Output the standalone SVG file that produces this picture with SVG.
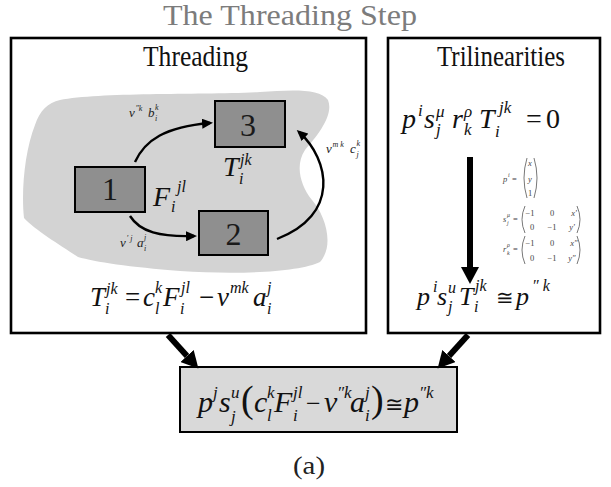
<svg xmlns="http://www.w3.org/2000/svg" width="611" height="487" viewBox="0 0 611 487">
<style>
.r{font-family:"Liberation Serif","Times New Roman",serif;fill:#111}
.m{font-family:"Liberation Serif","Times New Roman",serif;font-style:italic;fill:#111}
.sym{font-family:"DejaVu Serif","Liberation Serif",serif;fill:#111}
.panel{fill:#fff;stroke:#000;stroke-width:2.6}
.node{fill:#8f8f8f;stroke:#000;stroke-width:2}
.lbl{font-family:"Liberation Serif",serif;font-style:italic;fill:#222}
.mx{font-family:"Liberation Serif",serif;fill:#444;font-size:8.5px}
.par{fill:none;stroke:#555;stroke-width:0.8}
.thin{fill:none;stroke:#000;stroke-width:2.4}
.thick{fill:none;stroke:#000;stroke-width:6}
</style>
<defs>
<marker id="ah" markerUnits="userSpaceOnUse" viewBox="0 0 11 10" refX="8" refY="5" markerWidth="11" markerHeight="10" orient="auto"><path d="M0,0 L11,5 L0,10 Z" fill="#000"/></marker>
<marker id="bh" markerUnits="userSpaceOnUse" viewBox="0 0 17 18" refX="0" refY="9" markerWidth="17" markerHeight="18" orient="auto"><path d="M0,0 L17,9 L0,18 Z" fill="#000"/></marker>
</defs>
<rect width="611" height="487" fill="#fff"/>

<g id="title">
<text class="r" x="163" y="25" font-size="29" textLength="254" lengthAdjust="spacingAndGlyphs" style="fill:#7c7c7c">The Threading Step</text>
</g>

<g id="threading-panel">
<rect class="panel" x="11" y="38" width="355" height="295"/>
<text class="r" x="143" y="66" font-size="29" textLength="105" lengthAdjust="spacingAndGlyphs">Threading</text>
<path d="M60 100 C100 92 200 95 260 92 C290 90 320 88 328 100 C334 115 318 135 305 150 C295 165 300 185 312 200 C325 215 335 245 320 262 C300 272 240 275 180 271 C130 267 95 262 78 257 C60 245 35 230 24 218 C21 190 25 150 35 125 C40 110 48 103 60 100 Z" fill="#d3d3d3"/>
<text class="m" font-size="28"><tspan x="223" y="176">T</tspan><tspan x="240" y="165" font-size="16">jk</tspan><tspan x="239" y="184" font-size="16">i</tspan></text>
<text class="m" font-size="28"><tspan x="153" y="206">F</tspan><tspan x="177" y="192" font-size="16">jl</tspan><tspan x="171" y="212" font-size="16">i</tspan></text>
<text class="m" font-size="27"><tspan x="90" y="306">T</tspan><tspan x="106" y="294" font-size="16">jk</tspan><tspan x="105" y="314" font-size="16">i</tspan><tspan x="125" y="306" style="font-style:normal">=</tspan><tspan x="143" y="306">c</tspan><tspan x="155" y="293" font-size="16">k</tspan><tspan x="155" y="314" font-size="16">l</tspan><tspan x="163" y="306">F</tspan><tspan x="181" y="293" font-size="16">jl</tspan><tspan x="180" y="314" font-size="16">i</tspan><tspan x="199" y="306" style="font-style:normal">−</tspan><tspan x="217" y="306">v</tspan><tspan x="230" y="293" font-size="16">mk</tspan><tspan x="253" y="306">a</tspan><tspan x="267" y="293" font-size="16">j</tspan><tspan x="267" y="314" font-size="16">i</tspan></text>
<text class="lbl" font-size="13"><tspan x="129" y="117">v</tspan><tspan x="135.5" y="111" font-size="8">″k</tspan><tspan x="148" y="117">b</tspan><tspan x="155" y="110" font-size="8">k</tspan><tspan x="155" y="121" font-size="8">i</tspan></text>
<text class="lbl" font-size="13"><tspan x="120" y="247">v</tspan><tspan x="126.5" y="241" font-size="8">′ j</tspan><tspan x="137" y="247">a</tspan><tspan x="144" y="240" font-size="8">j</tspan><tspan x="144" y="251" font-size="8">i</tspan></text>
<text class="lbl" font-size="13"><tspan x="326" y="153">v</tspan><tspan x="332.5" y="147" font-size="8">m k</tspan><tspan x="350" y="153">c</tspan><tspan x="356.5" y="146" font-size="8">k</tspan><tspan x="356.5" y="157" font-size="8">j</tspan></text>
</g>

<g id="node-1">
<rect class="node" x="75" y="167" width="70" height="45"/>
<text class="r" x="110" y="200" font-size="32" text-anchor="middle" style="fill:#1a1a1a">1</text>
</g>
<g id="node-2">
<rect class="node" x="199" y="211" width="69" height="44"/>
<text class="r" x="233.5" y="245" font-size="32" text-anchor="middle" style="fill:#1a1a1a">2</text>
</g>
<g id="node-3">
<rect class="node" x="215" y="101" width="70" height="46"/>
<text class="r" x="248" y="136" font-size="32" text-anchor="middle" style="fill:#1a1a1a">3</text>
</g>

<g id="trilinearities-panel">
<rect class="panel" x="388" y="38" width="212" height="295"/>
<text class="r" x="437" y="66" font-size="29" textLength="128" lengthAdjust="spacingAndGlyphs">Trilinearities</text>
<text class="m" font-size="28"><tspan x="402" y="128">p</tspan><tspan x="418" y="116" font-size="17">i</tspan><tspan x="424" y="128">s</tspan><tspan x="436" y="117" font-size="17">μ</tspan><tspan x="436" y="135" font-size="17">j</tspan><tspan x="452" y="128">r</tspan><tspan x="464" y="117" font-size="17">ρ</tspan><tspan x="464" y="135" font-size="17">k</tspan><tspan x="479" y="128">T</tspan><tspan x="499" y="113" font-size="17">jk</tspan><tspan x="495" y="137" font-size="17">i</tspan><tspan x="526" y="128" style="font-style:normal">=</tspan><tspan x="546" y="128" style="font-style:normal">0</tspan></text>
<text class="m" font-size="26"><tspan x="417" y="305">p</tspan><tspan x="433" y="292" font-size="16">i</tspan><tspan x="437" y="305">s</tspan><tspan x="448" y="293" font-size="16">u</tspan><tspan x="448" y="312" font-size="16">j</tspan><tspan x="459" y="305">T</tspan><tspan x="475" y="291" font-size="16">jk</tspan><tspan x="474" y="312" font-size="16">i</tspan><tspan x="516" y="305">p</tspan><tspan x="532" y="291" font-size="16">″ k</tspan></text>
<text class="sym" x="496" y="305" font-size="21">≅</text>
<g id="matrices">
<text class="mx"><tspan x="503" y="182" style="font-style:italic">p</tspan><tspan x="508" y="177" font-size="6" style="font-style:italic">i</tspan><tspan x="512" y="182">=</tspan></text>
<path class="par" d="M527 158 Q521 178 527 198 M534 158 Q540 178 534 198"/>
<text class="mx" text-anchor="middle"><tspan x="530" y="166" style="font-style:italic">x</tspan><tspan x="530" y="182" style="font-style:italic">y</tspan><tspan x="530" y="196">1</tspan></text>
<text class="mx"><tspan x="503" y="222" style="font-style:italic">s</tspan><tspan x="507" y="217" font-size="6" style="font-style:italic">μ</tspan><tspan x="507" y="225" font-size="6" style="font-style:italic">j</tspan><tspan x="513" y="222">=</tspan></text>
<path class="par" d="M525 206 Q519 219.5 525 233 M577 206 Q583 219.5 577 233"/>
<text class="mx" text-anchor="middle"><tspan x="530" y="216">−1</tspan><tspan x="552" y="216">0</tspan><tspan x="574" y="216" style="font-style:italic">x′</tspan><tspan x="532" y="230">0</tspan><tspan x="552" y="230">−1</tspan><tspan x="572" y="230" style="font-style:italic">y′</tspan></text>
<text class="mx"><tspan x="503" y="252" style="font-style:italic">r</tspan><tspan x="507" y="247" font-size="6" style="font-style:italic">ρ</tspan><tspan x="507" y="255" font-size="6" style="font-style:italic">k</tspan><tspan x="513" y="252">=</tspan></text>
<path class="par" d="M525 236 Q519 250 525 264 M577 236 Q583 250 577 264"/>
<text class="mx" text-anchor="middle"><tspan x="530" y="246">−1</tspan><tspan x="552" y="246">0</tspan><tspan x="574" y="246" style="font-style:italic">x″</tspan><tspan x="532" y="261">0</tspan><tspan x="552" y="261">−1</tspan><tspan x="572" y="261" style="font-style:italic">y″</tspan></text>
</g>
</g>

<g id="result">
<rect x="180" y="367" width="277" height="65" fill="#d9d9d9" stroke="#000" stroke-width="2"/>
<text class="m" font-size="30"><tspan x="198" y="412">p</tspan><tspan x="213" y="398" font-size="17">j</tspan><tspan x="219" y="412">s</tspan><tspan x="231" y="398" font-size="17">u</tspan><tspan x="231" y="422" font-size="17">j</tspan><tspan x="254" y="412">c</tspan><tspan x="267" y="398" font-size="17">k</tspan><tspan x="267" y="421" font-size="17">l</tspan><tspan x="274" y="412">F</tspan><tspan x="293" y="398" font-size="17">jl</tspan><tspan x="293" y="421" font-size="17">i</tspan><tspan x="306" y="412" font-size="26" style="font-style:normal">−</tspan><tspan x="324" y="412">v</tspan><tspan x="337" y="398" font-size="17">″k</tspan><tspan x="350" y="412">a</tspan><tspan x="365" y="398" font-size="17">j</tspan><tspan x="365" y="421" font-size="17">i</tspan><tspan x="404" y="412">p</tspan><tspan x="419" y="398" font-size="17">″k</tspan></text>
<text class="r" font-size="38"><tspan x="241" y="412">(</tspan><tspan x="371" y="412">)</tspan></text>
<text class="sym" x="385" y="412" font-size="22">≅</text>
</g>

<g id="connectors">
<path class="thin" d="M135 162 C145 140 165 127 210 123" marker-end="url(#ah)"/>
<path class="thin" d="M130 216 C140 232 160 237 194 236" marker-end="url(#ah)"/>
<path class="thin" d="M277 239 C340 215 330 160 299 132" marker-end="url(#ah)"/>
<path class="thick" d="M470 157 L470 267" marker-end="url(#bh)"/>
<path class="thick" d="M168 335 L187 356" marker-end="url(#bh)"/>
<path class="thick" d="M468 335 L449 356" marker-end="url(#bh)"/>
</g>

<g id="caption">
<text class="r" x="293" y="474" font-size="25" textLength="32" lengthAdjust="spacingAndGlyphs" style="fill:#222">(a)</text>
</g>
</svg>
